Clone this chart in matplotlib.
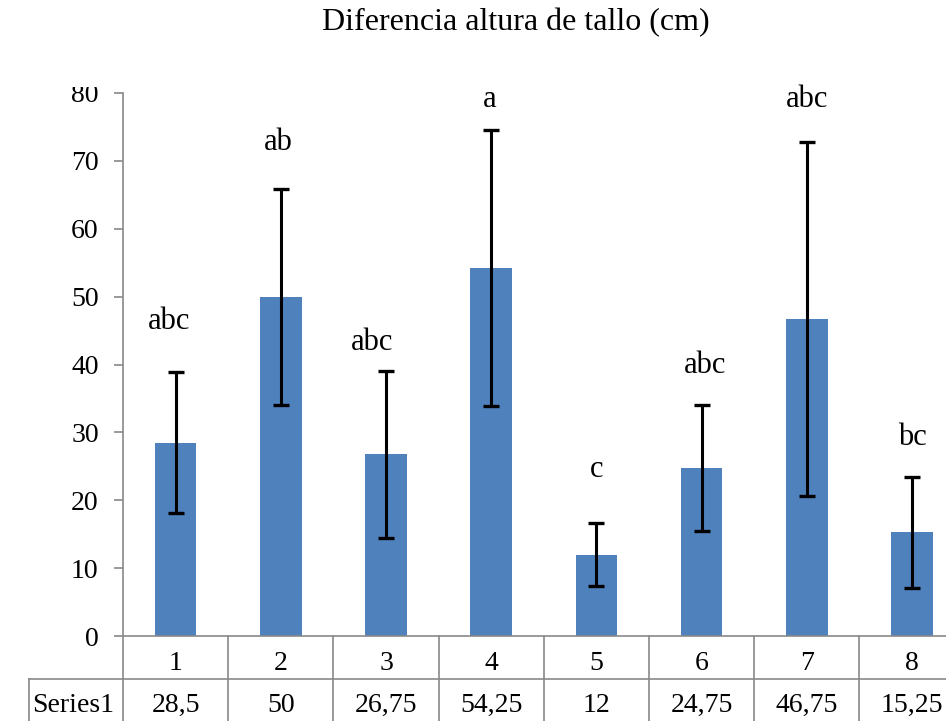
import matplotlib
matplotlib.use("Agg")
import matplotlib.pyplot as plt
from matplotlib.lines import Line2D
from matplotlib.transforms import Bbox

categories = ["1", "2", "3", "4", "5", "6", "7", "8"]
values = [28.5, 50, 26.75, 54.25, 12, 24.75, 46.75, 15.25]
value_labels = ["28,5", "50", "26,75", "54,25", "12", "24,75", "46,75", "15,25"]
errors = [10.4, 15.9, 12.35, 20.3, 4.6, 9.3, 26.1, 8.2]
letters = ["abc", "ab", "abc", "a", "c", "abc", "abc", "bc"]
letter_heights = [45.2, 71.6, 42.1, 77.9, 23.4, 38.7, 77.9, 28.1]
letter_shift = [-0.06, -0.02, -0.13, -0.01, 0.0, 0.03, 0.0, 0.0]
series_name = "Series1"
title = "Diferencia altura de tallo (cm)"

plt.rcParams['font.family'] = ['Liberation Serif', 'DejaVu Serif']
W, H = 946, 721
fig = plt.figure(figsize=(W / 100, H / 100), dpi=100)
cat_w = 105.2
ax_left, ax_top, ax_bottom = 123, 93, 636
ax_right = ax_left + cat_w * len(categories)
ax = fig.add_axes([ax_left / W, 1 - ax_bottom / H, (ax_right - ax_left) / W, (ax_bottom - ax_top) / H])

gray = "#898989"
x = list(range(len(categories)))
ax.bar(x, values, width=0.395, color="#4F81BD", zorder=2)
ax.errorbar(x, values, yerr=errors, fmt="none", ecolor="black", elinewidth=2.2,
            capsize=6, capthick=2.4, zorder=3)
for xi, l, ly, dx in zip(x, letters, letter_heights, letter_shift):
    ax.text(xi + dx, ly, l, ha="center", va="baseline", fontsize=22)

ax.set_xlim(-0.5, len(categories) - 0.5)
ax.set_ylim(0, 80)
ax.set_yticks(range(0, 81, 10))
ax.tick_params(axis="y", length=6.5, width=1.2, color=gray, labelsize=20, pad=11)
ax.set_xticks([])
for s in ["top", "right"]:
    ax.spines[s].set_visible(False)
ax.spines["left"].set_color(gray)
ax.spines["bottom"].set_color(gray)
ax.spines["left"].set_linewidth(1.2)
ax.spines["bottom"].set_linewidth(1.2)

# top tick label is cut off in the reference
top_lbl = ax.yaxis.get_major_ticks()[-1].label1
top_lbl.set_clip_box(Bbox.from_extents(0, 0, W, H - 87))
top_lbl.set_clip_on(True)

fig.text(516 / W, 1 - 30 / H, title, ha="center", va="baseline", fontsize=23)

# data table
def fy(p):
    return 1 - p / H
row2_top = 679
row1_base = 670
row2_base = 712
fig.add_artist(Line2D([29 / W, 1.0], [fy(row2_top), fy(row2_top)], color=gray, lw=1.2))
fig.add_artist(Line2D([29 / W, 29 / W], [fy(row2_top), 0], color=gray, lw=1.2))
for b in range(len(categories) + 1):
    xb = ax.transData.transform((b - 0.5, 0))[0] / W
    fig.add_artist(Line2D([xb, xb], [fy(ax_bottom), 0], color=gray, lw=1.2))
for xi, c, vl in zip(x, categories, value_labels):
    xf = ax.transData.transform((xi, 0))[0] / W
    fig.text(xf, fy(row1_base), c, ha="center", va="baseline", fontsize=20)
    fig.text(xf, fy(row2_base), vl, ha="center", va="baseline", fontsize=20)
fig.text(32 / W, fy(row2_base), series_name, ha="left", va="baseline", fontsize=20)

fig.savefig("out.png", dpi=100)
